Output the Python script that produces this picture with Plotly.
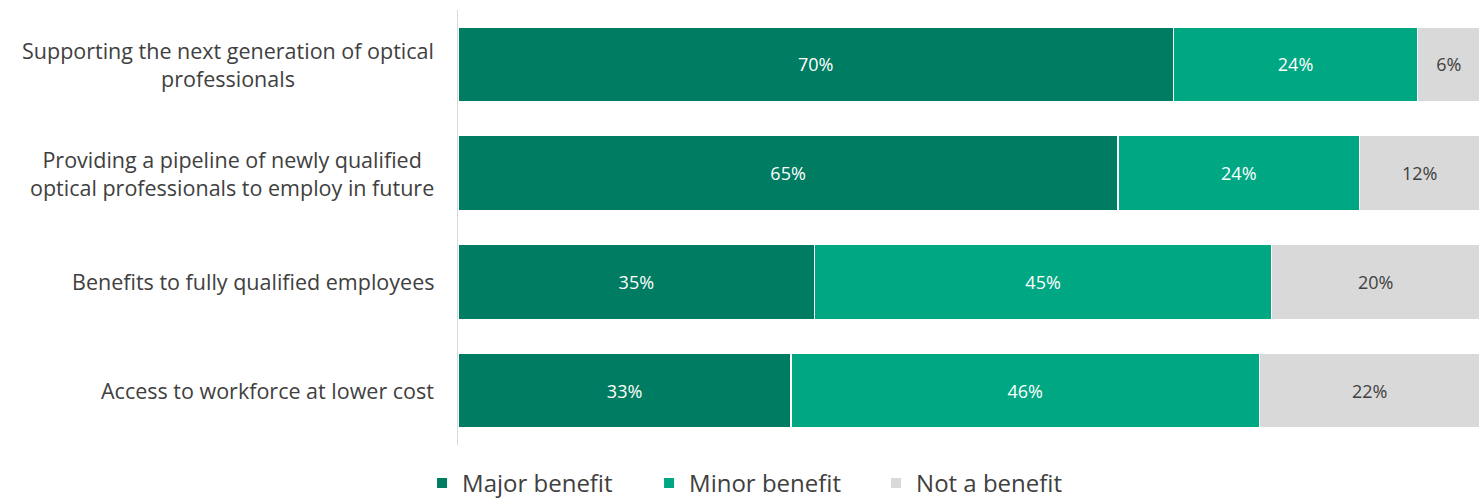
import plotly.graph_objects as go

categories = [
    "Supporting the next generation of optical<br>professionals",
    "Providing a pipeline of newly qualified<br>optical professionals to employ in future",
    "Benefits to fully qualified employees",
    "Access to workforce at lower cost",
]
major = [70.0, 64.6, 34.9, 32.6]
minor = [23.9, 23.6, 44.7, 45.8]
not_benefit = [6.1, 11.8, 20.4, 21.6]

series = [
    ("Major benefit", major, "#007C62", "white"),
    ("Minor benefit", minor, "#00A783", "white"),
    ("Not a benefit", not_benefit, "#D9D9D9", "#404040"),
]

font_family = "Open Sans, Liberation Sans, sans-serif"

fig = go.Figure()
for name, vals, color, tcolor in series:
    fig.add_trace(go.Bar(
        name=name, y=categories, x=vals, orientation="h",
        marker=dict(color=color, line=dict(color="white", width=1.5)),
        texttemplate="%{x:.0f}%", textposition="inside", insidetextanchor="middle",
        textfont=dict(color=tcolor, size=18, family=font_family),
        width=0.69,
    ))

for c in categories:
    fig.add_annotation(
        x=0, xref="paper", xanchor="right", xshift=-22,
        y=c, yref="y", text=c, showarrow=False, align="center",
        font=dict(size=21.5, color="#404040", family=font_family),
    )

fig.update_layout(
    barmode="stack",
    width=1483, height=502,
    margin=dict(l=458, r=3, t=10, b=57, autoexpand=False),
    paper_bgcolor="white", plot_bgcolor="white",
    font=dict(family=font_family, color="#404040"),
    showlegend=True,
    legend=dict(orientation="h", x=0.298, xanchor="center", y=-0.088, yanchor="middle",
                font=dict(size=24, color="#404040", family=font_family),
                itemsizing="constant", traceorder="normal",
                entrywidth=182, entrywidthmode="pixels"),
    xaxis=dict(range=[0, 100], visible=False, fixedrange=True),
    yaxis=dict(autorange="reversed", showticklabels=False, showline=True,
               linecolor="#D9D9D9", linewidth=1, ticks="", showgrid=False),
    uniformtext=dict(mode=False),
)

fig.write_html("out.html")
